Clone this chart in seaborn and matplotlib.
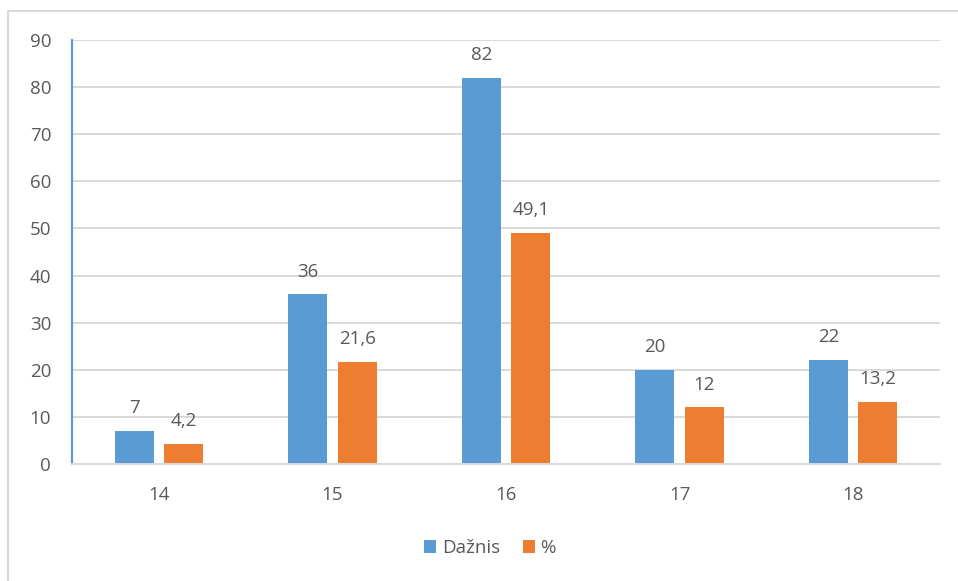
import matplotlib
matplotlib.use("Agg")
import matplotlib.pyplot as plt
from matplotlib.lines import Line2D
import seaborn as sns
import pandas as pd

# Age groups and the two series
ages = ["14", "15", "16", "17", "18"]
dažnis = [7, 36, 82, 20, 22]
procentai = [4.2, 21.6, 49.1, 12, 13.2]
series_names = ["Dažnis", "%"]
y_ticks = [0, 10, 20, 30, 40, 50, 60, 70, 80, 90]

df = pd.DataFrame({
    "amžius": ages * 2,
    "reikšmė": dažnis + procentai,
    "serija": [series_names[0]] * len(ages) + [series_names[1]] * len(ages),
})

sns.set_theme(style="white")
plt.rcParams["font.family"] = ["Open Sans", "DejaVu Sans"]
text_col = "#595959"
grid_col = "#d9d9d9"
fs = 13.5

fig = plt.figure(figsize=(9.58, 5.81), dpi=100)
ax = fig.add_axes([72 / 958, 1 - 464 / 581, (940 - 72) / 958, (464 - 40) / 581])

sns.barplot(data=df, x="amžius", y="reikšmė", hue="serija", order=ages,
            hue_order=series_names, palette=["#5B9BD5", "#ED7D31"],
            width=0.57, gap=0.21, ax=ax, saturation=1, linewidth=0)

ax.set_ylim(0, 90)
ax.set_xlim(-0.5, 4.5)
ax.set_yticks(y_ticks)
ax.yaxis.grid(True, color=grid_col, linewidth=1.4)
ax.set_axisbelow(True)
ax.set_xlabel("")
ax.set_ylabel("")
ax.tick_params(axis="y", length=0, pad=15, labelsize=fs, labelcolor=text_col)
ax.tick_params(axis="x", length=0, pad=16, labelsize=fs, labelcolor=text_col)

for s in ["top", "right"]:
    ax.spines[s].set_visible(False)
ax.spines["left"].set_color("#5B9BD5")
ax.spines["left"].set_linewidth(1.6)
ax.spines["bottom"].set_color(grid_col)
ax.spines["bottom"].set_linewidth(1.4)

for cont, vals in zip(ax.containers, [dažnis, procentai]):
    ax.bar_label(cont, labels=[f"{v:g}".replace(".", ",") for v in vals],
                 padding=10, fontsize=fs, color=text_col)

sns.move_legend(ax, "center", bbox_to_anchor=(490 / 958, 1 - 548 / 581),
                bbox_transform=fig.transFigure, ncol=2, title=None, frameon=False,
                fontsize=fs, handlelength=0.65, handleheight=0.65,
                handletextpad=0.3, columnspacing=1.2)
for t in ax.get_legend().get_texts():
    t.set_color(text_col)

# Chart area border (top and left edges)
fig.add_artist(Line2D([8 / 958, 1], [1 - 11 / 581, 1 - 11 / 581],
                      transform=fig.transFigure, color=grid_col, linewidth=1.5))
fig.add_artist(Line2D([8 / 958, 8 / 958], [0, 1 - 11 / 581],
                      transform=fig.transFigure, color=grid_col, linewidth=1.5))

fig.savefig("out.png", dpi=100)
